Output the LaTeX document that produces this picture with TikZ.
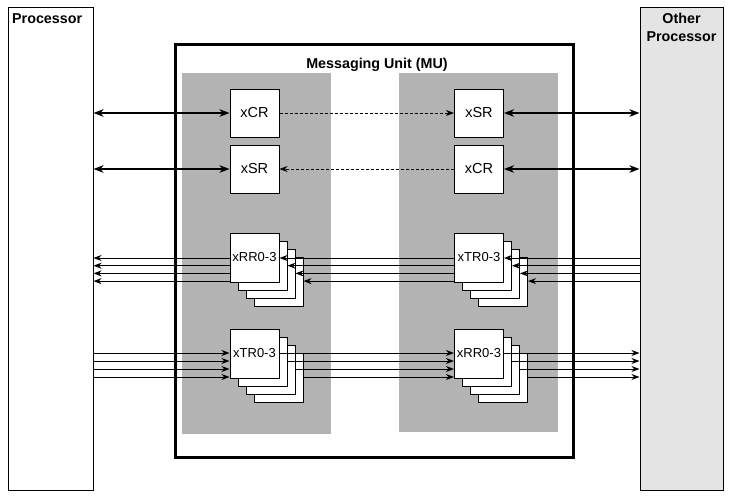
\documentclass[tikz,border=0pt]{standalone}
\usepackage{fontspec}
\setmainfont{Liberation Sans}
\usetikzlibrary{arrows.meta}
\definecolor{panelgray}{HTML}{B3B3B3}
\definecolor{othergray}{HTML}{E4E4E4}
\begin{document}
\begin{tikzpicture}[x=1pt,y=-1pt,
  reg/.style={draw, fill=white, line width=1pt, minimum width=49pt, minimum height=48pt, inner sep=0pt, font=\fontsize{14.5}{16}\selectfont},
  stk/.style={reg, minimum height=49pt, font=\fontsize{13}{15}\selectfont},
  tip/.style={line width=1pt, -{Stealth[length=8pt,width=6pt,inset=2.5pt]}},
  bus/.style={line width=2.4pt, {Stealth[length=10pt,width=7.5pt,inset=3pt]}-{Stealth[length=10pt,width=7.5pt,inset=3pt]}},
  dsh/.style={line width=1pt, dash pattern=on 3pt off 2pt, -{Stealth[length=8pt,width=6pt,inset=2.5pt]}},
  panel/.style={fill=panelgray, draw=none, inner sep=0pt},
  lbl/.style={font=\bfseries\fontsize{14.3}{17}\selectfont, inner sep=0pt}
]
\useasboundingbox (0,0) rectangle (737,499);

% outer processors
\node[draw, line width=1pt, minimum width=85pt, minimum height=483pt, inner sep=0pt] (proc) at (50.5,248.5) {};
\node[draw, fill=othergray, line width=1pt, minimum width=83pt, minimum height=483pt, inner sep=0pt] (oproc) at (681.5,248.5) {};
\node[lbl, anchor=base west] (proclbl) at (12,23.5) {Processor};
\node[lbl, anchor=base] (olbl1) at (681.5,23) {Other};
\node[lbl, anchor=base] (olbl2) at (681.5,41) {Processor};

% messaging unit
\node[draw, line width=3pt, minimum width=398pt, minimum height=413pt, inner sep=0pt] (mu) at (374,250.5) {};
\node[lbl, anchor=base] (mulbl) at (377,68) {Messaging Unit (MU)};
\node[panel, minimum width=149pt, minimum height=361pt] (lpanel) at (256.5,253.5) {};
\node[panel, minimum width=159pt, minimum height=359pt] (rpanel) at (478.5,252.5) {};

% control / status registers
\node[reg] (lcr) at (254.5,113) {xCR};
\node[reg] (lsr) at (254.5,169) {xSR};
\node[reg] (rsr) at (479,113) {xSR};
\node[reg] (rcr) at (479,169) {xCR};

% stacked registers
\foreach \k in {3,2,1} {
  \node[stk] (lrr\k) at ({254.5+8*\k},{257.5+8*\k}) {};
  \node[stk] (rtr\k) at ({479+8*\k},{257.5+8*\k}) {};
  \node[stk] (ltr\k) at ({254.5+8*\k},{353.5+8*\k}) {};
  \node[stk] (rrr\k) at ({479+8*\k},{353.5+8*\k}) {};
}
\node[stk] (lrr0) at (254.5,257.5) {xRR0-3};
\node[stk] (rtr0) at (479,257.5) {xTR0-3};
\node[stk] (ltr0) at (254.5,353.5) {xTR0-3};
\node[stk] (rrr0) at (479,353.5) {xRR0-3};

% thick bidirectional buses
\draw[bus] (proc.east |- lcr) -- (lcr.west);
\draw[bus] (proc.east |- lsr) -- (lsr.west);
\draw[bus] (rsr.east) -- (oproc.west |- rsr);
\draw[bus] (rcr.east) -- (oproc.west |- rcr);

% dashed links
\draw[dsh] (lcr.east) -- (rsr.west);
\draw[dsh] (rcr.west) -- (lsr.east);

% message register lines
\foreach \k in {0,1,2,3} {
  \coordinate (ta\k) at (0,{258+7.7*\k});
  \coordinate (ba\k) at (0,{353+8*\k});
  \draw[tip] (oproc.west |- ta\k) -- (rtr\k.east |- ta\k);
  \draw[tip] (rtr0.west |- ta\k) -- (lrr\k.east |- ta\k);
  \draw[tip] (lrr0.west |- ta\k) -- (proc.east |- ta\k);
  \draw[tip] (proc.east |- ba\k) -- (ltr0.west |- ba\k);
  \draw[tip] (ltr\k.east |- ba\k) -- (rrr0.west |- ba\k);
  \draw[tip] (rrr\k.east |- ba\k) -- (oproc.west |- ba\k);
}
\end{tikzpicture}
\end{document}
